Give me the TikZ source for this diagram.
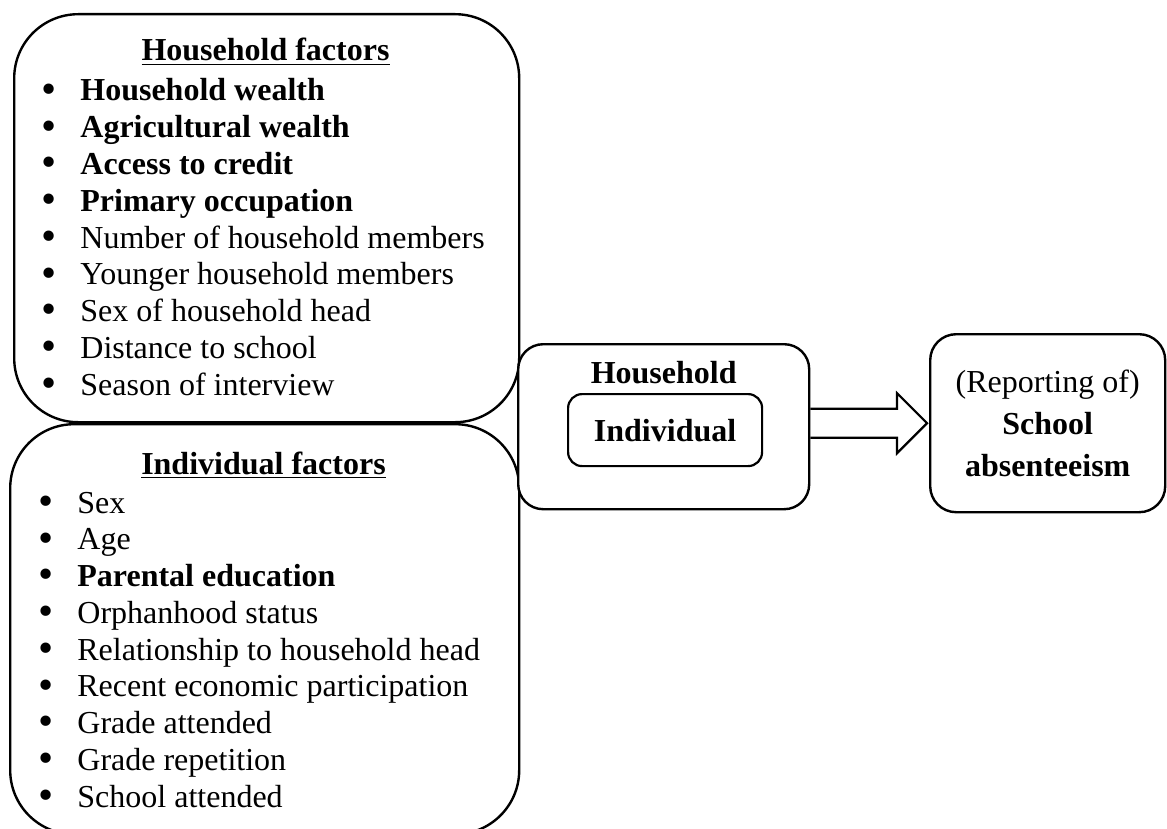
\documentclass[tikz,border=0pt]{standalone}
\usepackage{graphicx}
\usepackage{fontspec}
\setmainfont{Liberation Serif}
\usepackage{tikz}
\usetikzlibrary{positioning,calc}
\newcommand{\bodyfont}{\fontsize{16}{18.35}\selectfont}
\newcommand{\bul}{\makebox[19.5pt][l]{\smash{\raisebox{-1.2pt}{\scalebox{1.35}{\textbullet}}}}}
\tikzset{
  bigbox/.style={draw, line width=1.2pt, rounded corners=32pt, anchor=north west,
                 inner sep=0pt},
  midbox/.style={draw, fill=white, line width=1.2pt, rounded corners=12.5pt,
                 anchor=north west, inner sep=0pt},
  innbox/.style={draw, line width=1.1pt, rounded corners=7pt, anchor=north west,
                 inner sep=0pt, font=\bodyfont\bfseries},
  outbox/.style={draw, line width=1.2pt, rounded corners=13pt, anchor=north west,
                 inner sep=0pt, align=center, font=\fontsize{16}{21}\selectfont},
  item/.style={anchor=base west, inner sep=0pt, font=\bodyfont},
  head/.style={anchor=base, inner sep=0pt, font=\bodyfont\bfseries},
  fatarrow/.style={line width=1.1pt, line join=miter},
}

\begin{document}
\begin{tikzpicture}[x=0.5pt, y=-0.5pt]
\clip (0,0) rectangle (1167,829);

% left boxes
\node[bigbox, minimum width=252.5pt, minimum height=204pt] (hhbox) at (13,13) {};
\node[bigbox, minimum width=254.5pt, minimum height=205pt] (indbox) at (9,423) {};

\node[head] (hhtitle) at (265.5,61) {\underline{Household factors}};
\foreach \txt [count=\i from 0] in {\textbf{Household wealth}, \textbf{Agricultural wealth},
    \textbf{Access to credit}, \textbf{Primary occupation}, Number of household members,
    Younger household members, Sex of household head, Distance to school, Season of interview}
  \node[item] (hh\i) at (41,{101+36.75*\i}) {\bul\txt};

\node[head] (indtitle) at (263.5,474) {\underline{Individual factors}};
\foreach \txt [count=\i from 0] in {Sex, Age, \textbf{Parental education}, Orphanhood status,
    Relationship to household head, Recent economic participation, Grade attended,
    Grade repetition, School attended}
  \node[item] (ind\i) at (38,{513+36.75*\i}) {\bul\txt};

% middle and outcome
\node[midbox, minimum width=145.5pt, minimum height=82.5pt] (mid) at (517,343) {};
\node[head] (midlbl) at ($(mid.north)+(0,40)$) {Household};
\node[innbox, minimum width=97pt, minimum height=36pt] (inner) at (567,393) {Individual};
\node[outbox, minimum width=117.5pt, minimum height=89pt] (absent) at (929,333)
  {(Reporting of)\\\textbf{School}\\\textbf{absenteeism}};

\coordinate (tip) at ($(absent.west)+(-2,0)$);
\coordinate (tail) at (mid.east |- tip);
\draw[fatarrow] ($(tail)+(0,-14.5)$) -- ($(tip)+(-30,-14.5)$) -- ($(tip)+(-30,-30)$)
  -- (tip) -- ($(tip)+(-30,30)$) -- ($(tip)+(-30,14.5)$) -- ($(tail)+(0,14.5)$);
\end{tikzpicture}
\end{document}
